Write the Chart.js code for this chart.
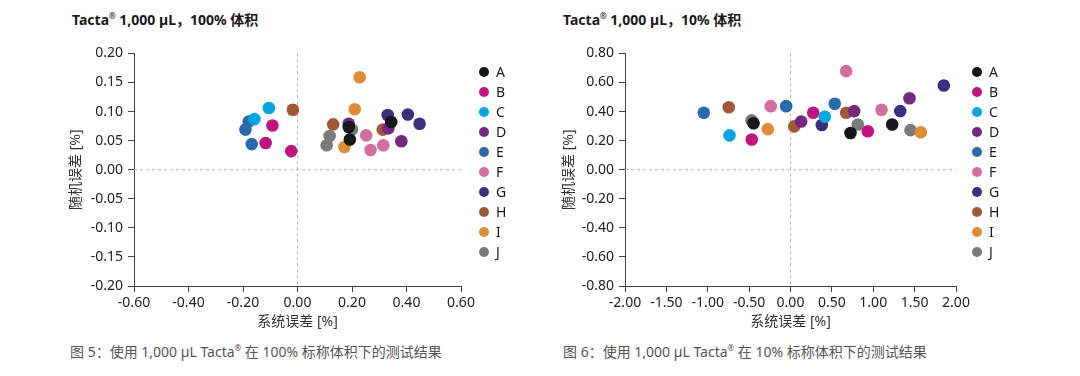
<!DOCTYPE html>
<html>
<head>
<meta charset="utf-8">
<script src="https://cdn.jsdelivr.net/npm/chart.js@4.4.1/dist/chart.umd.min.js"></script>
<style>
  body { margin:0; width:1080px; height:376px; background:#fff; position:relative; overflow:hidden;
         font-family:"Noto Sans","Noto Sans CJK SC",sans-serif; }
  .title { position:absolute; top:10px; line-height:20px; font-weight:bold; font-size:14px; color:#1a1a1a; }
  .title sup { font-size:8px; vertical-align:6px; line-height:0; }
  .cap { position:absolute; top:342px; line-height:20px; font-size:14px; color:#555; }
  .cap sup { font-size:8px; vertical-align:6px; line-height:0; }
  canvas { position:absolute; top:40px; }
  .legend { position:absolute; top:62px; font-size:14px; color:#1a1a1a; }
  .legend div { height:20px; line-height:20px; position:relative; padding-left:17px; }
  .legend span { position:absolute; left:0; top:5px; width:10px; height:10px; border-radius:50%; }
</style>
</head>
<body>
<div class="title" style="left:72px">Tacta<sup>®</sup> 1,000 µL，100% 体积</div>
<div class="title" style="left:563px">Tacta<sup>®</sup> 1,000 µL，10% 体积</div>
<canvas id="chart100" width="443" height="295" style="left:58px"></canvas>
<canvas id="chart10" width="441" height="295" style="left:555px"></canvas>
<div class="legend" id="legend100" style="left:479px"></div>
<div class="legend" id="legend10" style="left:972px"></div>
<div class="cap" style="left:70px">图 5：使用 1,000 µL Tacta<sup>®</sup> 在 100% 标称体积下的测试结果</div>
<div class="cap" style="left:563px">图 6：使用 1,000 µL Tacta<sup>®</sup> 在 10% 标称体积下的测试结果</div>
<script>
// channels A-J
var names = ['A', 'B', 'C', 'D', 'E', 'F', 'G', 'H', 'I', 'J'];
var colors = ['#15171c', '#c0157f', '#00a6de', '#74287f', '#2a6aa8',
              '#d06fa0', '#3b2f7e', '#a05836', '#df8c38', '#7b7b7b'];

// 100% volume: systematic error (x) and random error (y), in %
var full_x = [
  [0.188, 0.192, 0.344],
  [-0.092, -0.117, -0.023],
  [-0.105, -0.158],
  [0.188, 0.333, 0.381],
  [-0.179, -0.191, -0.168],
  [0.252, 0.268, 0.315],
  [0.331, 0.405, 0.448],
  [-0.017, 0.131, 0.313],
  [0.228, 0.210, 0.172],
  [0.200, 0.118, 0.107]
];
var full_y = [
  [0.0735, 0.052, 0.082],
  [0.076, 0.046, 0.032],
  [0.106, 0.087],
  [0.079, 0.071, 0.049],
  [0.083, 0.069, 0.044],
  [0.059, 0.034, 0.042],
  [0.094, 0.095, 0.079],
  [0.103, 0.078, 0.069],
  [0.159, 0.104, 0.039],
  [0.069, 0.058, 0.042]
];

// 10% volume
var ten_x = [
  [-0.447, 0.725, 1.229],
  [-0.468, 0.274, 0.934],
  [-0.737, 0.415],
  [0.129, 0.770, 1.438],
  [-1.048, -0.052, 0.535],
  [-0.238, 0.673, 1.100],
  [0.378, 1.326, 1.853],
  [-0.746, 0.045, 0.673],
  [-0.274, 1.575],
  [-0.471, 0.813, 1.450]
];
var ten_y = [
  [0.320, 0.252, 0.311],
  [0.208, 0.392, 0.265],
  [0.236, 0.364],
  [0.332, 0.403, 0.492],
  [0.392, 0.437, 0.454],
  [0.437, 0.678, 0.412],
  [0.307, 0.403, 0.579],
  [0.430, 0.298, 0.392],
  [0.279, 0.258],
  [0.339, 0.311, 0.272]
];

Chart.defaults.font.family = "'Noto Sans', 'Noto Sans CJK SC', sans-serif";
Chart.defaults.color = '#222';

// dashed lines through 0,0
var zeroLines = {
  id: 'zeroLines',
  beforeDatasetsDraw: function(chart) {
    var ctx = chart.ctx, a = chart.chartArea;
    var px = chart.scales.x.getPixelForValue(0);
    var py = chart.scales.y.getPixelForValue(0);
    ctx.save();
    ctx.strokeStyle = '#b8b8b8';
    ctx.lineWidth = 1;
    ctx.setLineDash([3, 3]);
    ctx.beginPath();
    ctx.moveTo(px, a.top); ctx.lineTo(px, a.bottom);
    ctx.moveTo(a.left, py); ctx.lineTo(a.right, py);
    ctx.stroke();
    ctx.restore();
  }
};

function fmt(v) {
  if (Math.abs(v) < 1e-9) v = 0;
  return v.toFixed(2);
}

function makeChart(id, xs, ys, xr, yr, yWidth, yTitlePad) {
  var datasets = names.map(function(n, i) {
    return {
      label: n,
      data: xs[i].map(function(x, j) { return {x: x, y: ys[i][j]}; }),
      backgroundColor: colors[i],
      borderWidth: 0,
      pointRadius: 6.3,
      pointHoverRadius: 6.3
    };
  });
  return new Chart(document.getElementById(id), {
    type: 'scatter',
    data: {datasets: datasets},
    plugins: [zeroLines],
    options: {
      responsive: false,
      animation: false,
      layout: {padding: {top: 13, right: 40, left: 0, bottom: 0}},
      plugins: {legend: {display: false}, tooltip: {enabled: false}},
      scales: {
        x: {
          min: xr[0], max: xr[1],
          ticks: {stepSize: xr[2], autoSkip: false, maxRotation: 0, padding: 3,
                  font: {size: 14}, color: '#222', callback: fmt},
          grid: {drawOnChartArea: false, tickLength: 6, tickColor: '#444'},
          border: {color: '#444'},
          title: {display: true, text: '系统误差 [%]', color: '#333', font: {size: 14},
                  padding: {top: 0, bottom: 5}},
          afterFit: function(s) { s.height = 49; }
        },
        y: {
          min: yr[0], max: yr[1],
          ticks: {stepSize: yr[2], padding: 5, font: {size: 14}, color: '#222', callback: fmt},
          grid: {drawOnChartArea: false, tickLength: 6, tickColor: '#444'},
          border: {color: '#444'},
          title: {display: true, text: '随机误差 [%]', color: '#333', font: {size: 14},
                  padding: {top: yTitlePad, bottom: 0}},
          afterFit: function(s) { s.width = yWidth; }
        }
      }
    }
  });
}

function makeLegend(id) {
  var el = document.getElementById(id);
  names.forEach(function(n, i) {
    var d = document.createElement('div');
    d.innerHTML = '<span style="background:' + colors[i] + '"></span>' + n;
    el.appendChild(d);
  });
}

makeChart('chart100', full_x, full_y, [-0.6, 0.6, 0.2], [-0.2, 0.2, 0.05], 76, 9.6);
makeChart('chart10', ten_x, ten_y, [-2, 2, 0.5], [-0.8, 0.8, 0.2], 70, 5.6);
makeLegend('legend100');
makeLegend('legend10');
</script>
</body>
</html>
